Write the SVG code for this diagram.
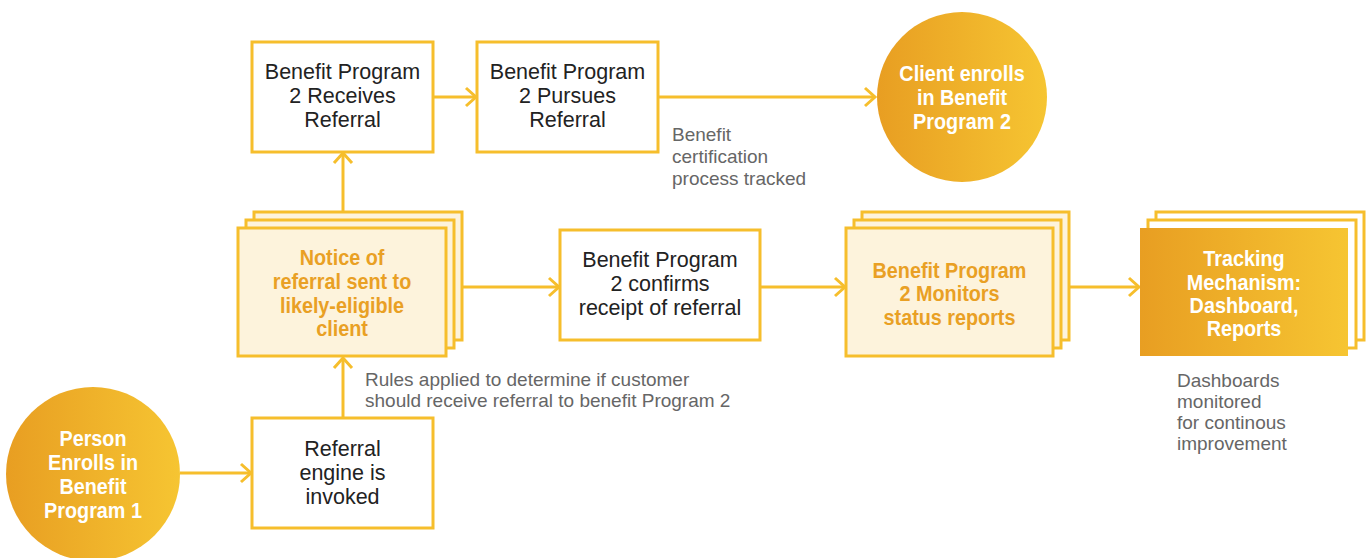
<svg xmlns="http://www.w3.org/2000/svg" width="1366" height="558" viewBox="0 0 1366 558">
<defs>
<linearGradient id="og" x1="0" y1="0" x2="1" y2="0">
<stop offset="0" stop-color="#E89E22"/>
<stop offset="1" stop-color="#F6C532"/>
</linearGradient>
<marker id="ah" markerUnits="userSpaceOnUse" markerWidth="16" markerHeight="22" refX="12" refY="11" orient="auto">
<path d="M2,2 L12,11 L2,20" fill="none" stroke="#F6BE2C" stroke-width="3"/>
</marker>
<style>
.bx{fill:#fff;stroke:#F6BE2C;stroke-width:3}
.lt{fill:#FDF3DC;stroke:#F6BE2C;stroke-width:3}
.wb{fill:#fff;stroke:#F6BE2C;stroke-width:3}
.reg{font-family:"Liberation Sans",Arial,sans-serif;font-size:21.5px;fill:#222;text-anchor:middle}
.gry{font-family:"Liberation Sans",Arial,sans-serif;font-size:19px;fill:#666}
.cb{font-family:"Liberation Sans",Arial,sans-serif;font-weight:bold;font-size:22px;text-anchor:middle}
.or{fill:#E9A024}
.wh{fill:#fff}
.cn{fill:none;stroke:#F6BE2C;stroke-width:3;marker-end:url(#ah)}
</style>
</defs>
<g id="connectors">
<line class="cn" x1="180" y1="473" x2="251" y2="473"/>
<line class="cn" x1="343" y1="418" x2="343" y2="358"/>
<line class="cn" x1="343" y1="211" x2="343" y2="153"/>
<line class="cn" x1="433" y1="97" x2="476" y2="97"/>
<line class="cn" x1="658" y1="97" x2="875" y2="97"/>
<line class="cn" x1="462" y1="287" x2="559" y2="287"/>
<line class="cn" x1="760" y1="287" x2="845" y2="287"/>
<line class="cn" x1="1069" y1="287" x2="1139" y2="287"/>
</g>
<g id="person">
<circle cx="93" cy="474" r="87" fill="url(#og)"/>
<text class="cb wh" transform="translate(93 0) scale(0.9 1)"><tspan x="0" y="446">Person</tspan><tspan x="0" y="470">Enrolls in</tspan><tspan x="0" y="494">Benefit</tspan><tspan x="0" y="518">Program 1</tspan></text>
</g>
<g id="referral-engine">
<rect class="bx" x="252" y="418" width="181" height="110"/>
<text class="reg"><tspan x="342.5" y="456">Referral</tspan><tspan x="342.5" y="480">engine is</tspan><tspan x="342.5" y="504">invoked</tspan></text>
</g>
<g id="rules-label">
<text class="gry"><tspan x="365" y="386">Rules applied to determine if customer</tspan><tspan x="365" y="407">should receive referral to benefit Program 2</tspan></text>
</g>
<g id="notice">
<rect class="lt" x="254" y="212" width="208" height="128"/>
<rect class="lt" x="246" y="220" width="208" height="128"/>
<rect class="lt" x="238" y="228" width="208" height="128"/>
<text class="cb or" transform="translate(342 0) scale(0.9 1)"><tspan x="0" y="265">Notice of</tspan><tspan x="0" y="289">referral sent to</tspan><tspan x="0" y="313">likely-eligible</tspan><tspan x="0" y="336">client</tspan></text>
</g>
<g id="receives">
<rect class="bx" x="252" y="42" width="181" height="110"/>
<text class="reg"><tspan x="342.5" y="79">Benefit Program</tspan><tspan x="342.5" y="103">2 Receives</tspan><tspan x="342.5" y="127">Referral</tspan></text>
</g>
<g id="pursues">
<rect class="bx" x="477" y="42" width="181" height="110"/>
<text class="reg"><tspan x="567.5" y="79">Benefit Program</tspan><tspan x="567.5" y="103">2 Pursues</tspan><tspan x="567.5" y="127">Referral</tspan></text>
</g>
<g id="cert-label">
<text class="gry"><tspan x="672" y="141">Benefit</tspan><tspan x="672" y="163">certification</tspan><tspan x="672" y="185">process tracked</tspan></text>
</g>
<g id="client-enrolls">
<circle cx="962" cy="97" r="85" fill="url(#og)"/>
<text class="cb wh" transform="translate(962 0) scale(0.9 1)"><tspan x="0" y="81">Client enrolls</tspan><tspan x="0" y="105">in Benefit</tspan><tspan x="0" y="129">Program 2</tspan></text>
</g>
<g id="confirms">
<rect class="bx" x="560" y="230" width="200" height="110"/>
<text class="reg"><tspan x="660" y="267">Benefit Program</tspan><tspan x="660" y="291">2 confirms</tspan><tspan x="660" y="315">receipt of referral</tspan></text>
</g>
<g id="monitors">
<rect class="lt" x="862" y="212" width="207" height="128"/>
<rect class="lt" x="854" y="220" width="207" height="128"/>
<rect class="lt" x="846" y="228" width="207" height="128"/>
<text class="cb or" transform="translate(949.5 0) scale(0.9 1)"><tspan x="0" y="278">Benefit Program</tspan><tspan x="0" y="301">2 Monitors</tspan><tspan x="0" y="325">status reports</tspan></text>
</g>
<g id="tracking">
<rect class="wb" x="1156" y="212" width="208" height="128"/>
<rect class="wb" x="1148" y="220" width="208" height="128"/>
<rect x="1140" y="228" width="208" height="128" fill="url(#og)"/>
<text class="cb wh" transform="translate(1244 0) scale(0.9 1)"><tspan x="0" y="266">Tracking</tspan><tspan x="0" y="290">Mechanism:</tspan><tspan x="0" y="313">Dashboard,</tspan><tspan x="0" y="336">Reports</tspan></text>
</g>
<g id="dash-label">
<text class="gry"><tspan x="1177" y="387">Dashboards</tspan><tspan x="1177" y="408">monitored</tspan><tspan x="1177" y="429">for continous</tspan><tspan x="1177" y="450">improvement</tspan></text>
</g>
</svg>
